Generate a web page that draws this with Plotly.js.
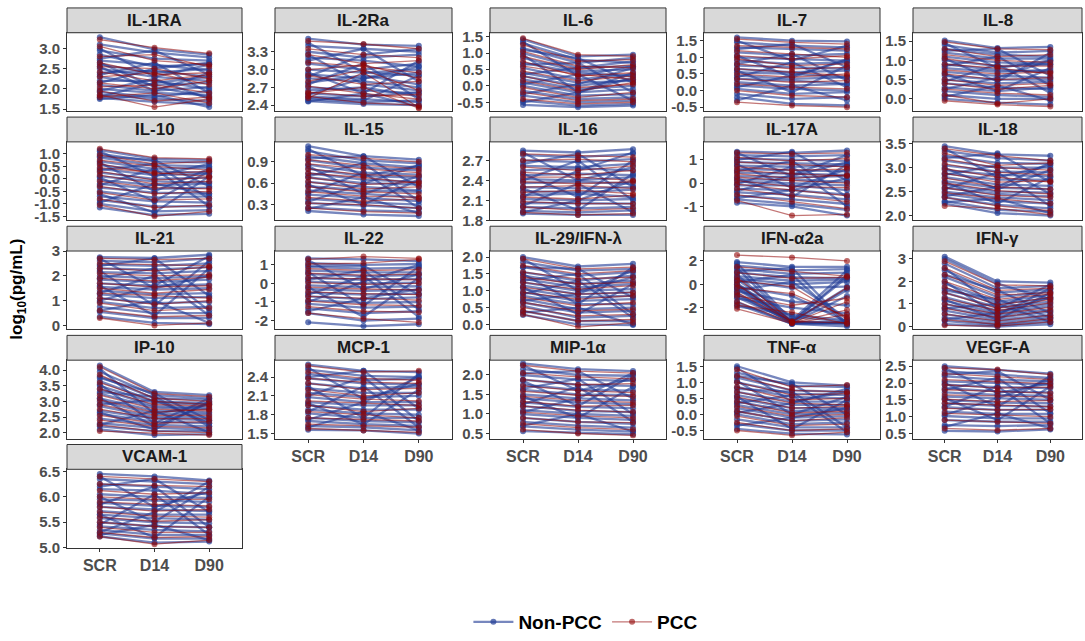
<!DOCTYPE html>
<html><head><meta charset="utf-8">
<script src="https://cdn.plot.ly/plotly-3.0.1.min.js"></script>
<style>html,body{margin:0;padding:0;background:#fff}#chart{width:1085px;height:641px}</style>
</head><body><div id="chart"></div>
<script>
const timepoints = ["SCR","D14","D90"];
const groupNames = ["Non-PCC","PCC"];
const panelNames = ["IL-1RA","IL-2Ra","IL-6","IL-7","IL-8","IL-10","IL-15","IL-16","IL-17A","IL-18","IL-21","IL-22","IL-29/IFN-λ","IFN-α2a","IFN-γ","IP-10","MCP-1","MIP-1α","TNF-α","VEGF-A","VCAM-1"];

const IL1RA_non=[[3.28,2.98,2.85],[3.10,2.90,2.78],[2.95,2.75,2.70],[2.85,2.55,2.62],[2.70,2.60,2.45],[2.60,2.40,2.50],[2.50,2.30,2.20],[2.40,2.45,2.30],[2.30,2.10,2.15],[2.20,2.20,2.00],[2.10,1.95,2.05],[2.00,1.90,1.85],[1.92,1.80,1.95],[1.85,1.75,1.70],[1.78,1.68,1.62],[1.75,1.85,1.55],[3.0,2.3,2.6],[2.75,2.95,2.35],[2.55,1.95,2.40],[2.35,2.65,1.90],[2.15,2.50,2.65],[1.95,2.25,1.75],[2.65,2.05,1.80],[1.80,2.15,2.30]];
const IL1RA_pcc=[[3.22,3.02,2.88],[3.05,2.70,2.60],[2.80,2.85,2.55],[2.65,2.35,2.40],[2.55,2.50,2.25],[2.42,2.20,2.35],[2.30,2.40,2.10],[2.15,2.00,2.20],[2.05,2.10,1.90],[1.95,1.70,1.80],[1.85,1.55,1.75],[1.80,1.90,1.65]];
const IL2Ra_non=[[3.52,3.42,3.40],[3.40,3.35,3.30],[3.30,3.20,3.25],[3.20,3.15,3.05],[3.10,3.00,3.10],[3.00,2.95,2.90],[2.92,2.85,2.95],[2.85,2.80,2.70],[2.78,2.90,2.75],[2.70,2.65,2.60],[2.65,2.70,2.55],[2.60,2.55,2.62],[2.55,2.50,2.45],[2.50,2.45,2.48],[2.47,2.42,2.40],[2.46,2.60,2.38],[3.45,2.95,3.00],[3.15,3.35,2.80],[2.95,2.60,3.15],[2.75,3.10,2.50],[2.58,2.85,3.05],[3.25,2.75,2.65],[2.88,3.25,3.35],[2.52,2.48,2.90]];
const IL2Ra_pcc=[[3.48,3.43,3.35],[3.35,3.25,3.20],[3.25,3.10,3.15],[3.12,3.05,2.95],[3.00,3.08,2.85],[2.90,2.75,2.80],[2.80,3.00,2.65],[2.72,2.60,2.50],[2.62,2.55,2.58],[2.55,2.44,2.40],[2.52,2.95,2.36],[2.60,2.70,2.35]];
const IL6_non=[[1.42,0.90,0.95],[1.30,0.80,0.70],[1.15,0.70,0.85],[1.00,0.55,0.60],[0.85,0.45,0.50],[0.70,0.40,0.30],[0.55,0.20,0.35],[0.40,0.10,0.15],[0.30,0.00,0.20],[0.20,-0.10,0.00],[0.10,-0.20,-0.10],[0.00,-0.30,-0.25],[-0.15,-0.40,-0.35],[-0.30,-0.50,-0.45],[-0.45,-0.60,-0.55],[-0.58,-0.65,-0.60],[1.35,0.30,0.60],[1.10,0.85,0.10],[0.95,-0.20,0.40],[0.65,0.70,-0.20],[0.35,0.55,0.75],[0.05,0.35,-0.45],[-0.25,0.05,0.55],[-0.50,-0.20,0.25]];
const IL6_pcc=[[1.45,0.95,0.90],[1.25,0.75,0.80],[1.05,0.60,0.55],[0.90,0.50,0.65],[0.75,0.30,0.40],[0.60,0.35,0.20],[0.45,0.15,0.30],[0.30,-0.05,0.05],[0.15,-0.15,0.10],[-0.05,-0.35,-0.20],[-0.20,-0.45,-0.40],[-0.40,-0.55,-0.50]];
const IL7_non=[[1.60,1.50,1.48],[1.45,1.35,1.30],[1.30,1.25,1.20],[1.15,1.05,1.10],[1.00,0.95,0.90],[0.90,0.80,0.85],[0.75,0.70,0.65],[0.65,0.55,0.60],[0.55,0.50,0.40],[0.45,0.35,0.40],[0.35,0.30,0.20],[0.25,0.15,0.20],[0.15,0.05,0.00],[0.05,-0.10,-0.05],[-0.10,-0.25,-0.20],[-0.20,-0.40,-0.45],[1.50,0.90,1.35],[1.25,1.40,0.70],[1.05,0.40,0.95],[0.80,1.10,0.30],[0.60,-0.05,0.75],[0.40,0.85,0.10],[0.10,0.45,0.90],[-0.30,0.15,-0.30]];
const IL7_pcc=[[1.55,1.45,1.40],[1.35,1.30,1.25],[1.20,1.10,1.00],[1.05,0.95,1.05],[0.95,0.75,0.80],[0.80,0.65,0.70],[0.65,0.55,0.45],[0.50,0.40,0.50],[0.35,0.25,0.30],[0.20,0.10,0.05],[0.00,-0.15,-0.20],[-0.35,-0.45,-0.50]];
const IL8_non=[[1.52,1.32,1.35],[1.40,1.20,1.25],[1.30,1.15,1.10],[1.20,1.05,1.05],[1.10,0.95,0.90],[1.00,0.85,0.90],[0.90,0.75,0.70],[0.80,0.70,0.75],[0.70,0.60,0.55],[0.60,0.50,0.50],[0.50,0.40,0.45],[0.40,0.30,0.25],[0.30,0.20,0.30],[0.20,0.10,0.05],[0.10,0.00,0.00],[0.00,-0.10,-0.15],[1.45,0.80,1.00],[1.25,1.30,0.60],[1.05,0.45,1.20],[0.85,1.10,0.35],[0.65,0.20,0.80],[0.45,0.90,0.15],[0.25,0.55,1.00],[0.05,0.35,-0.05]];
const IL8_pcc=[[1.48,1.30,1.28],[1.30,1.10,1.15],[1.15,1.00,0.95],[1.05,0.85,0.85],[0.90,0.80,0.65],[0.75,0.65,0.70],[0.65,0.50,0.55],[0.50,0.35,0.40],[0.40,0.25,0.35],[0.25,0.15,0.10],[0.10,-0.12,0.00],[-0.05,-0.15,-0.20]];
const IL10_non=[[1.15,0.80,0.75],[1.00,0.70,0.65],[0.85,0.55,0.50],[0.70,0.40,0.45],[0.55,0.30,0.25],[0.40,0.15,0.20],[0.25,0.00,0.05],[0.10,-0.10,-0.15],[-0.05,-0.25,-0.20],[-0.20,-0.40,-0.35],[-0.35,-0.55,-0.60],[-0.50,-0.75,-0.70],[-0.70,-0.90,-0.95],[-0.85,-1.10,-1.10],[-1.00,-1.30,-1.25],[-1.15,-1.45,-1.40],[1.10,0.10,0.60],[0.90,0.75,-0.30],[0.65,-0.50,0.40],[0.35,0.60,-0.80],[0.05,-0.90,0.30],[-0.25,0.40,-1.10],[-0.60,-1.35,0.10],[-0.95,-0.20,-0.60]];
const IL10_pcc=[[1.20,0.85,0.80],[0.95,0.60,0.70],[0.75,0.50,0.35],[0.60,0.20,0.30],[0.45,0.25,0.10],[0.30,-0.05,0.05],[0.15,-0.20,-0.10],[-0.10,-0.35,-0.40],[-0.30,-0.60,-0.50],[-0.55,-0.85,-0.80],[-0.80,-1.15,-1.05],[-1.05,-1.50,-1.30]];
const IL15_non=[[1.12,0.98,0.93],[1.05,0.92,0.88],[0.98,0.88,0.82],[0.92,0.82,0.78],[0.86,0.75,0.72],[0.80,0.70,0.68],[0.74,0.65,0.62],[0.68,0.60,0.58],[0.62,0.55,0.50],[0.56,0.50,0.48],[0.50,0.45,0.40],[0.44,0.40,0.35],[0.38,0.33,0.30],[0.32,0.28,0.25],[0.26,0.22,0.20],[0.21,0.16,0.14],[1.08,0.70,0.85],[0.95,0.98,0.55],[0.84,0.45,0.70],[0.70,0.88,0.35],[0.58,0.30,0.65],[0.46,0.75,0.25],[0.34,0.60,0.85],[0.24,0.40,0.18]];
const IL15_pcc=[[1.00,0.95,0.90],[0.93,0.85,0.80],[0.87,0.80,0.75],[0.80,0.72,0.70],[0.74,0.68,0.60],[0.68,0.58,0.62],[0.62,0.52,0.55],[0.55,0.48,0.45],[0.48,0.42,0.40],[0.40,0.35,0.38],[0.32,0.30,0.25],[0.25,0.20,0.18]];
const IL16_non=[[2.85,2.82,2.87],[2.78,2.75,2.80],[2.70,2.68,2.72],[2.62,2.60,2.65],[2.55,2.58,2.55],[2.48,2.50,2.48],[2.42,2.40,2.45],[2.36,2.38,2.35],[2.30,2.28,2.30],[2.24,2.22,2.26],[2.18,2.20,2.15],[2.12,2.10,2.12],[2.06,2.05,2.05],[2.00,1.98,2.00],[1.94,1.92,1.95],[1.90,1.88,1.88],[2.82,2.40,2.60],[2.65,2.80,2.30],[2.50,2.15,2.70],[2.40,2.70,2.10],[2.28,1.95,2.50],[2.15,2.55,2.82],[2.02,2.35,1.92],[1.92,2.10,2.40]];
const IL16_pcc=[[2.80,2.78,2.75],[2.70,2.72,2.68],[2.60,2.55,2.62],[2.52,2.48,2.55],[2.45,2.45,2.40],[2.38,2.35,2.38],[2.30,2.32,2.28],[2.22,2.25,2.20],[2.15,2.12,2.18],[2.08,2.05,2.05],[2.00,1.95,1.98],[1.92,1.88,1.90]];
const IL17A_non=[[1.35,1.30,1.40],[1.20,1.15,1.20],[1.05,1.00,0.95],[0.90,0.85,0.80],[0.75,0.70,0.75],[0.60,0.55,0.50],[0.45,0.40,0.35],[0.30,0.25,0.30],[0.15,0.15,0.05],[0.05,0.00,-0.10],[-0.10,-0.10,-0.30],[-0.25,-0.30,-0.50],[-0.40,-0.50,-0.70],[-0.55,-0.70,-0.90],[-0.70,-0.90,-1.15],[-0.85,-1.00,-1.40],[1.30,0.30,0.90],[1.00,1.35,0.10],[0.80,-0.20,0.60],[0.50,0.95,-0.60],[0.20,-0.60,0.80],[-0.05,0.70,-1.00],[-0.35,0.35,1.20],[-0.65,-0.30,0.20]];
const IL17A_pcc=[[1.30,1.25,1.30],[1.10,0.95,1.05],[0.90,0.80,0.70],[0.70,0.55,0.60],[0.55,0.40,0.30],[0.40,0.20,0.35],[0.25,0.10,0.00],[0.10,-0.15,-0.20],[-0.05,-0.30,-0.55],[-0.25,-0.55,-0.80],[-0.50,-0.80,-1.10],[-0.75,-1.40,-1.35]];
const IL18_non=[[3.45,3.28,3.25],[3.35,3.20,3.15],[3.25,3.10,3.08],[3.15,3.00,3.00],[3.05,2.92,2.90],[2.95,2.85,2.82],[2.88,2.75,2.75],[2.80,2.65,2.62],[2.72,2.58,2.55],[2.65,2.50,2.48],[2.58,2.45,2.40],[2.50,2.38,2.32],[2.45,2.30,2.25],[2.38,2.22,2.15],[2.30,2.12,2.08],[2.25,2.05,2.00],[3.40,2.80,3.05],[3.20,3.30,2.70],[3.00,2.55,2.95],[2.85,3.05,2.45],[2.70,2.25,2.80],[2.55,2.90,2.20],[2.40,2.60,3.10],[2.28,2.35,2.05]];
const IL18_pcc=[[3.40,3.25,3.15],[3.30,3.05,3.10],[3.18,3.00,2.95],[3.08,2.90,2.85],[2.98,2.80,2.70],[2.88,2.70,2.72],[2.78,2.60,2.55],[2.68,2.52,2.45],[2.58,2.42,2.38],[2.48,2.35,2.25],[2.38,2.20,2.10],[2.20,2.15,2.02]];
const IL21_non=[[2.75,2.72,2.85],[2.60,2.55,2.70],[2.45,2.40,2.50],[2.30,2.25,2.35],[2.15,2.10,2.20],[2.00,1.90,2.00],[1.85,1.75,1.85],[1.70,1.60,1.65],[1.55,1.45,1.50],[1.40,1.25,1.30],[1.25,1.10,1.15],[1.10,0.90,0.95],[0.95,0.70,0.75],[0.75,0.50,0.50],[0.55,0.30,0.30],[0.35,0.10,0.05],[2.70,1.50,2.00],[2.40,2.70,1.20],[2.20,0.80,2.60],[1.90,2.30,0.60],[1.60,0.40,2.30],[1.30,2.00,0.40],[1.00,1.60,2.80],[0.60,1.00,0.10]];
const IL21_pcc=[[2.70,2.65,2.70],[2.50,2.45,2.40],[2.30,2.20,2.35],[2.10,2.00,2.05],[1.90,1.80,1.95],[1.70,1.55,1.60],[1.50,1.30,1.45],[1.30,1.20,1.10],[1.10,0.85,1.00],[0.90,0.60,0.70],[0.60,0.35,0.40],[0.30,0.00,0.10]];
const IL22_non=[[1.35,1.30,1.20],[1.10,1.00,1.05],[0.90,0.80,0.85],[0.70,0.60,0.60],[0.50,0.40,0.45],[0.30,0.20,0.25],[0.10,0.00,0.05],[-0.10,-0.20,-0.15],[-0.30,-0.40,-0.35],[-0.50,-0.60,-0.55],[-0.70,-0.85,-0.75],[-0.90,-1.05,-1.00],[-1.10,-1.30,-1.25],[-1.35,-1.60,-1.50],[-1.60,-2.00,-1.90],[-2.10,-2.30,-2.20],[1.25,-0.30,0.50],[0.95,0.95,-0.60],[0.60,-1.20,0.90],[0.20,0.70,-1.40],[-0.20,-1.80,0.30],[-0.60,0.40,-1.80],[-1.00,0.10,1.00],[-1.50,-0.80,-0.30]];
const IL22_pcc=[[1.30,1.45,1.35],[1.05,1.10,1.30],[0.80,0.70,0.75],[0.55,0.45,0.50],[0.30,0.25,0.20],[0.05,-0.05,0.00],[-0.20,-0.30,-0.35],[-0.45,-0.55,-0.60],[-0.70,-0.80,-0.90],[-0.95,-1.15,-1.20],[-1.25,-1.50,-1.55],[-1.60,-1.90,-2.10]];
const IL29_non=[[2.00,1.72,1.80],[1.85,1.60,1.65],[1.70,1.45,1.55],[1.55,1.30,1.45],[1.45,1.20,1.30],[1.35,1.10,1.20],[1.25,1.00,1.05],[1.15,0.90,0.95],[1.05,0.80,0.85],[0.95,0.70,0.75],[0.85,0.60,0.60],[0.75,0.45,0.50],[0.65,0.35,0.40],[0.55,0.20,0.25],[0.40,0.10,0.10],[0.28,0.00,-0.02],[1.95,1.00,1.40],[1.70,1.65,0.80],[1.50,0.60,1.70],[1.30,1.50,0.30],[1.10,0.30,1.20],[0.90,1.30,0.20],[0.70,0.90,1.60],[0.35,0.50,0.00]];
const IL29_pcc=[[1.95,1.65,1.70],[1.75,1.50,1.60],[1.55,1.35,1.40],[1.40,1.20,1.25],[1.25,1.05,1.15],[1.10,0.90,0.95],[0.95,0.75,0.85],[0.80,0.55,0.65],[0.65,0.40,0.45],[0.50,0.25,0.30],[0.40,0.10,0.15],[0.30,-0.08,0.05]];
const IFNa2a_non=[[1.90,1.50,1.50],[1.60,1.20,1.30],[1.30,0.90,1.00],[1.00,0.60,0.50],[0.70,0.30,0.40],[0.50,0.00,0.20],[0.30,-0.30,-0.20],[0.10,-3.20,-0.50],[0.00,-3.20,-3.30],[-0.20,-1.00,-3.20],[-0.40,-3.30,-1.00],[-0.60,-1.50,-1.80],[-0.90,-3.25,-3.40],[-1.20,-2.00,-2.50],[-1.50,-3.40,-3.60],[-1.90,-2.60,-3.10],[1.80,-3.10,1.20],[1.40,-3.30,-3.30],[1.10,1.40,-3.40],[0.80,-3.25,0.80],[0.40,-2.80,-3.20],[0.20,0.80,-3.50],[-0.10,-3.35,-3.30],[-0.30,-3.20,0.60],[-0.50,0.20,-2.90],[-0.80,-3.30,-3.35],[-1.10,-3.20,-0.30],[-1.70,-3.40,-3.30]];
const IFNa2a_pcc=[[2.50,2.30,2.00],[1.50,1.10,0.70],[1.00,0.50,0.60],[0.60,-3.20,-0.30],[0.30,-0.20,-3.00],[0.00,-3.30,-1.50],[-0.30,-0.80,-2.80],[-0.70,-3.20,-3.30],[-1.00,-1.80,-1.20],[-1.50,-3.30,-2.20],[-1.80,-2.40,-3.40],[-2.10,-3.35,-2.60]];
const IFNg_non=[[3.10,2.00,1.95],[2.80,1.70,1.80],[2.50,1.50,1.65],[2.20,1.30,1.55],[1.90,1.10,1.40],[1.70,1.00,1.25],[1.50,0.85,1.10],[1.30,0.70,1.00],[1.15,0.60,0.90],[1.00,0.50,0.75],[0.85,0.40,0.65],[0.70,0.30,0.50],[0.55,0.20,0.40],[0.40,0.10,0.30],[0.25,0.05,0.20],[0.10,0.00,0.10],[3.00,1.90,1.20],[2.60,0.80,1.85],[2.30,1.60,0.60],[2.00,0.50,1.70],[1.60,1.20,0.40],[1.20,0.30,1.50],[0.80,1.00,0.20],[0.30,0.60,1.30]];
const IFNg_pcc=[[2.90,1.85,1.80],[2.60,1.60,1.70],[2.30,1.40,1.50],[2.00,1.20,1.45],[1.75,0.95,1.30],[1.50,0.80,1.20],[1.25,0.70,1.05],[1.00,0.55,0.85],[0.80,0.40,0.70],[0.55,0.25,0.50],[0.30,0.10,0.35],[0.05,0.02,0.20]];
const IP10_non=[[4.15,3.30,3.20],[3.95,3.20,3.10],[3.80,3.10,3.05],[3.65,3.00,2.95],[3.50,2.95,2.90],[3.40,2.85,2.80],[3.25,2.80,2.75],[3.10,2.70,2.65],[3.00,2.60,2.60],[2.85,2.50,2.50],[2.70,2.45,2.40],[2.60,2.35,2.30],[2.45,2.25,2.20],[2.30,2.15,2.10],[2.20,2.05,2.05],[2.10,1.92,1.95],[4.05,2.60,2.90],[3.75,3.25,2.40],[3.55,2.30,3.10],[3.30,3.15,2.20],[3.10,2.20,2.95],[2.90,3.05,2.30],[2.65,2.10,3.00],[2.25,2.70,2.00]];
const IP10_pcc=[[4.10,3.25,3.15],[3.85,3.10,3.00],[3.60,3.00,2.90],[3.40,2.90,2.85],[3.20,2.75,2.70],[3.05,2.65,2.75],[2.90,2.55,2.55],[2.75,2.45,2.45],[2.55,2.30,2.35],[2.40,2.20,2.15],[2.25,2.05,2.00],[2.05,1.98,1.92]];
const MCP1_non=[[2.60,2.50,2.48],[2.52,2.42,2.40],[2.45,2.35,2.38],[2.38,2.30,2.28],[2.30,2.22,2.25],[2.22,2.15,2.15],[2.15,2.08,2.10],[2.08,2.00,2.00],[2.00,1.95,1.95],[1.95,1.88,1.88],[1.88,1.82,1.80],[1.82,1.75,1.75],[1.75,1.70,1.68],[1.70,1.65,1.62],[1.62,1.60,1.55],[1.56,1.55,1.50],[2.55,2.05,2.30],[2.40,2.50,1.90],[2.25,1.75,2.45],[2.10,2.40,1.70],[1.98,1.65,2.20],[1.85,2.25,1.60],[1.72,2.00,2.40],[1.60,1.85,1.55]];
const MCP1_pcc=[[2.58,2.48,2.50],[2.48,2.38,2.35],[2.38,2.32,2.30],[2.30,2.20,2.22],[2.20,2.10,2.15],[2.12,2.05,2.02],[2.02,1.98,1.95],[1.95,1.85,1.90],[1.85,1.80,1.75],[1.75,1.72,1.70],[1.65,1.62,1.60],[1.58,1.55,1.52]];
const MIP1a_non=[[2.30,2.15,2.10],[2.15,2.00,1.98],[2.00,1.88,1.85],[1.88,1.75,1.72],[1.75,1.62,1.60],[1.62,1.50,1.48],[1.50,1.40,1.35],[1.40,1.30,1.25],[1.30,1.18,1.15],[1.20,1.08,1.05],[1.10,1.00,0.95],[1.00,0.90,0.85],[0.90,0.80,0.75],[0.80,0.70,0.65],[0.68,0.60,0.55],[0.56,0.52,0.48],[2.25,1.60,1.90],[2.05,2.10,1.40],[1.85,1.20,2.00],[1.65,1.90,1.00],[1.45,0.90,1.70],[1.25,1.70,0.80],[1.05,1.40,2.05],[0.70,1.00,0.55]];
const MIP1a_pcc=[[2.25,2.10,2.05],[2.05,1.95,1.90],[1.88,1.75,1.78],[1.72,1.60,1.55],[1.58,1.48,1.45],[1.45,1.35,1.30],[1.32,1.20,1.22],[1.20,1.10,1.05],[1.05,0.95,0.90],[0.90,0.80,0.78],[0.75,0.65,0.60],[0.60,0.50,0.45]];
const TNFa_non=[[1.50,1.00,0.90],[1.30,0.90,0.85],[1.15,0.75,0.70],[1.00,0.65,0.60],[0.85,0.55,0.50],[0.70,0.40,0.40],[0.60,0.30,0.30],[0.50,0.20,0.20],[0.40,0.10,0.15],[0.30,0.00,0.05],[0.20,-0.10,-0.05],[0.10,-0.20,-0.15],[0.00,-0.30,-0.25],[-0.15,-0.40,-0.40],[-0.30,-0.50,-0.50],[-0.45,-0.60,-0.62],[1.45,0.40,0.70],[1.20,0.95,0.00],[1.05,0.00,0.55],[0.80,0.70,-0.40],[0.55,-0.45,0.45],[0.35,0.60,-0.55],[0.05,0.35,0.80],[-0.35,-0.10,0.20]];
const TNFa_pcc=[[1.40,0.85,0.92],[1.20,0.75,0.70],[1.00,0.60,0.65],[0.85,0.45,0.50],[0.70,0.35,0.30],[0.55,0.20,0.25],[0.40,0.05,0.10],[0.25,-0.05,0.00],[0.10,-0.20,-0.10],[-0.05,-0.35,-0.30],[-0.25,-0.50,-0.45],[-0.50,-0.65,-0.55]];
const VEGFA_non=[[2.50,2.38,2.28],[2.35,2.25,2.15],[2.20,2.10,2.05],[2.05,2.00,1.95],[1.95,1.88,1.85],[1.85,1.75,1.72],[1.72,1.65,1.62],[1.60,1.55,1.50],[1.50,1.42,1.40],[1.40,1.32,1.30],[1.28,1.20,1.20],[1.15,1.08,1.08],[1.02,0.95,0.95],[0.90,0.85,0.85],[0.75,0.72,0.75],[0.58,0.56,0.62],[2.45,1.70,2.00],[2.25,2.35,1.50],[2.00,1.30,2.20],[1.80,2.15,1.10],[1.55,0.90,1.90],[1.30,1.90,0.80],[1.05,1.55,2.10],[0.70,1.10,0.65]];
const VEGFA_pcc=[[2.45,2.40,2.25],[2.28,2.20,2.10],[2.10,2.05,1.98],[1.95,1.85,1.88],[1.80,1.75,1.70],[1.65,1.62,1.58],[1.52,1.45,1.48],[1.40,1.35,1.30],[1.25,1.20,1.22],[1.10,1.05,1.00],[0.90,0.85,0.80],[0.65,0.60,0.65]];
const VCAM1_non=[[6.45,6.40,6.32],[6.35,6.30,6.25],[6.25,6.20,6.15],[6.15,6.12,6.05],[6.05,6.00,5.98],[5.95,5.92,5.90],[5.88,5.82,5.80],[5.80,5.75,5.72],[5.72,5.65,5.65],[5.65,5.58,5.55],[5.58,5.50,5.48],[5.50,5.42,5.40],[5.42,5.35,5.32],[5.35,5.25,5.25],[5.28,5.18,5.18],[5.22,5.10,5.12],[6.40,5.80,6.10],[6.20,6.35,5.70],[6.00,5.50,6.20],[5.85,6.20,5.40],[5.65,5.20,6.00],[5.45,6.05,5.25],[5.30,5.70,6.30],[5.25,5.45,5.15]];
const VCAM1_pcc=[[6.40,6.35,6.30],[6.25,6.22,6.20],[6.12,6.05,6.08],[6.00,5.95,5.95],[5.90,5.85,5.82],[5.80,5.72,5.75],[5.70,5.62,5.60],[5.60,5.52,5.55],[5.50,5.42,5.40],[5.40,5.30,5.30],[5.30,5.20,5.22],[5.22,5.07,5.15]];

const nonPCC=[IL1RA_non,IL2Ra_non,IL6_non,IL7_non,IL8_non,IL10_non,IL15_non,IL16_non,IL17A_non,IL18_non,IL21_non,IL22_non,IL29_non,IFNa2a_non,IFNg_non,IP10_non,MCP1_non,MIP1a_non,TNFa_non,VEGFA_non,VCAM1_non];
const PCC=[IL1RA_pcc,IL2Ra_pcc,IL6_pcc,IL7_pcc,IL8_pcc,IL10_pcc,IL15_pcc,IL16_pcc,IL17A_pcc,IL18_pcc,IL21_pcc,IL22_pcc,IL29_pcc,IFNa2a_pcc,IFNg_pcc,IP10_pcc,MCP1_pcc,MIP1a_pcc,TNFa_pcc,VEGFA_pcc,VCAM1_pcc];

const yTickVals=[[1.5,2,2.5,3],[2.4,2.7,3.0,3.3],[-0.5,0,0.5,1,1.5],[-0.5,0,0.5,1,1.5],[0,0.5,1,1.5],[-1.5,-1,-0.5,0,0.5,1],[0.3,0.6,0.9],[1.8,2.1,2.4,2.7],[-1,0,1],[2,2.5,3,3.5],[0,1,2,3],[-2,-1,0,1],[0,0.5,1,1.5,2],[-2,0,2],[0,1,2,3],[2,2.5,3,3.5,4],[1.5,1.8,2.1,2.4],[0.5,1,1.5,2],[-0.5,0,0.5,1,1.5],[0.5,1,1.5,2,2.5],[5,5.5,6,6.5]];
const yTickText=[["1.5","2.0","2.5","3.0"],["2.4","2.7","3.0","3.3"],["-0.5","0.0","0.5","1.0","1.5"],["-0.5","0.0","0.5","1.0","1.5"],["0.0","0.5","1.0","1.5"],["-1.5","-1.0","-0.5","0.0","0.5","1.0"],["0.3","0.6","0.9"],["1.8","2.1","2.4","2.7"],["-1","0","1"],["2.0","2.5","3.0","3.5"],["0","1","2","3"],["-2","-1","0","1"],["0.0","0.5","1.0","1.5","2.0"],["-2","0","2"],["0","1","2","3"],["2.0","2.5","3.0","3.5","4.0"],["1.5","1.8","2.1","2.4"],["0.5","1.0","1.5","2.0"],["-0.5","0.0","0.5","1.0","1.5"],["0.5","1.0","1.5","2.0","2.5"],["5.0","5.5","6.0","6.5"]];
const yRanges=[[1.45,3.39],[2.30,3.62],[-0.77,1.62],[-0.62,1.74],[-0.32,1.72],[-1.66,1.48],[0.08,1.18],[1.8,2.98],[-1.6,1.77],[1.9,3.54],[-0.16,3.0],[-2.48,1.75],[-0.15,2.18],[-3.87,2.85],[-0.13,3.35],[1.81,4.32],[1.42,2.67],[0.37,2.38],[-0.75,1.69],[0.35,2.68],[5.0,6.54]];

const W=1085,H=641;
const colX=[[67,242],[275,452],[490,666],[704,880],[913,1082]];
const rowY=[[8,33,112],[118,143,222],[228,253,332],[338,363,442],[448,473,552]];
const blueLine='rgba(36,62,150,0.62)', blueMk='rgba(36,62,150,0.7)';
const redLine='rgba(145,5,5,0.55)', redMk='rgba(145,5,5,0.6)';
const FAM='Liberation Sans, Arial, sans-serif';
const yTickFont={family:FAM,size:15,color:'#4d4d4d',weight:700};
const xTickFont={family:FAM,size:16,color:'#4d4d4d',weight:700};

function toXY(lines){const x=[],y=[];lines.forEach(l=>{l.forEach((v,j)=>{x.push(timepoints[j]);y.push(v);});x.push(null);y.push(null);});return {x,y};}

const traces=[],shapes=[],annotations=[];
const layout={width:W,height:H,margin:{l:0,r:0,t:0,b:0},paper_bgcolor:'#fff',plot_bgcolor:'#fff',showlegend:true,
 legend:{orientation:'h',x:0.54,xanchor:'center',y:1-627/H,yanchor:'middle',font:{family:FAM,size:19,color:'#000',weight:700},itemwidth:40,tracegroupgap:0}};

panelNames.forEach((name,i)=>{
  const r=Math.floor(i/5),c=i%5;
  const k=i===0?'':String(i+1);
  const [x0,x1]=colX[c];const [st,pt,pb]=rowY[r];
  const bottom=(c===0&&r===4)||(c>0&&r===3);
  layout['xaxis'+k]={domain:[x0/W,x1/W],anchor:'y'+k,type:'category',categoryorder:'array',categoryarray:timepoints,range:[-0.6,2.6],
    showgrid:false,zeroline:false,showline:true,mirror:true,linecolor:'#333',linewidth:1,
    ticks:bottom?'outside':'',ticklen:3,tickcolor:'#333',showticklabels:bottom,tickfont:xTickFont,fixedrange:true};
  layout['yaxis'+k]={domain:[1-pb/H,1-pt/H],anchor:'x'+k,range:yRanges[i],tickmode:'array',tickvals:yTickVals[i],ticktext:yTickText[i],
    showgrid:false,zeroline:false,showline:true,mirror:true,linecolor:'#333',linewidth:1,ticks:'outside',ticklen:3,tickcolor:'#333',tickfont:yTickFont,fixedrange:true};
  shapes.push({type:'rect',xref:'paper',yref:'paper',x0:x0/W,x1:x1/W,y0:1-pt/H,y1:1-st/H,fillcolor:'#d9d9d9',line:{color:'#333',width:1}});
  annotations.push({xref:'paper',yref:'paper',x:(x0+x1)/2/W,y:1-(st+pt)/2/H,text:name,showarrow:false,xanchor:'center',yanchor:'middle',
    font:{family:FAM,size:17,color:'#1a1a1a',weight:700}});
  const a=toXY(nonPCC[i]);
  traces.push({type:'scatter',mode:'lines+markers',x:a.x,y:a.y,xaxis:'x'+k,yaxis:'y'+k,connectgaps:false,name:groupNames[0],legendgroup:'n',showlegend:i===0,
    line:{color:blueLine,width:2.3},marker:{color:blueMk,size:6},hoverinfo:'skip'});
});
panelNames.forEach((name,i)=>{
  const k=i===0?'':String(i+1);
  const b=toXY(PCC[i]);
  traces.push({type:'scatter',mode:'lines+markers',x:b.x,y:b.y,xaxis:'x'+k,yaxis:'y'+k,connectgaps:false,name:groupNames[1],legendgroup:'p',showlegend:i===0,
    line:{color:redLine,width:1.3},marker:{color:redMk,size:6},hoverinfo:'skip'});
});
annotations.push({xref:'paper',yref:'paper',x:18/W,y:1-292/H,text:'log<sub>10</sub>(pg/mL)',textangle:-90,showarrow:false,xanchor:'center',yanchor:'middle',
  font:{family:FAM,size:17,color:'#000',weight:700}});
layout.shapes=shapes;layout.annotations=annotations;
Plotly.newPlot('chart',traces,layout,{displayModeBar:false,staticPlot:true});
</script></body></html>
